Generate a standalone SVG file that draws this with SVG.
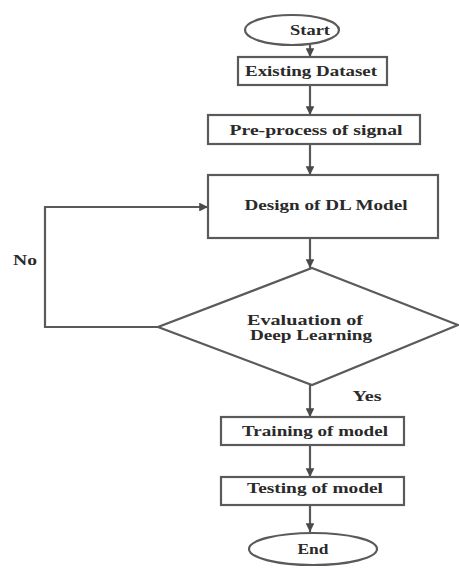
<svg xmlns="http://www.w3.org/2000/svg" width="459" height="569" viewBox="0 0 459 569">
<style>
.shape{fill:#fff;stroke:#5a5a5a;stroke-width:2.2}
.lbl{font-family:"Liberation Serif","Times New Roman",serif;font-weight:bold;font-size:14px;fill:#2a2a2a;text-anchor:middle}
.conn{fill:none;stroke:#5a5a5a;stroke-width:2.2}
</style>
<defs>
<marker id="ah" viewBox="0 0 10 10" refX="10" refY="5" markerWidth="4" markerHeight="4" orient="auto" markerUnits="strokeWidth">
<path d="M0,0 L10,5 L0,10 z" fill="#4a4a4a"/>
</marker>
</defs>
<rect width="459" height="569" fill="#fff"/>
<g id="connectors">
<line class="conn" x1="310" y1="45" x2="310" y2="57" marker-end="url(#ah)"/>
<line class="conn" x1="310" y1="85" x2="310" y2="115" marker-end="url(#ah)"/>
<line class="conn" x1="310" y1="144" x2="310" y2="175" marker-end="url(#ah)"/>
<line class="conn" x1="310" y1="238" x2="310" y2="268" marker-end="url(#ah)"/>
<line class="conn" x1="310" y1="385" x2="310" y2="417" marker-end="url(#ah)"/>
<line class="conn" x1="310" y1="445" x2="310" y2="477" marker-end="url(#ah)"/>
<line class="conn" x1="310" y1="505" x2="310" y2="532" marker-end="url(#ah)"/>
<polyline class="conn" points="158,327 45,327 45,207 208,207" marker-end="url(#ah)"/>
<text class="lbl" x="25" y="265" textLength="24" lengthAdjust="spacingAndGlyphs">No</text>
<text class="lbl" x="367" y="401" textLength="29" lengthAdjust="spacingAndGlyphs">Yes</text>
</g>
<g id="start">
<ellipse class="shape" cx="292" cy="30" rx="47" ry="15"/>
<text class="lbl" x="310" y="35" textLength="40" lengthAdjust="spacingAndGlyphs">Start</text>
</g>
<g id="existing">
<rect class="shape" x="238" y="57" width="149" height="28"/>
<text class="lbl" x="311" y="76" textLength="132" lengthAdjust="spacingAndGlyphs">Existing Dataset</text>
</g>
<g id="preprocess">
<rect class="shape" x="208" y="115" width="212" height="29"/>
<text class="lbl" x="316" y="135" textLength="173" lengthAdjust="spacingAndGlyphs">Pre-process of signal</text>
</g>
<g id="design">
<rect class="shape" x="208" y="175" width="230" height="63"/>
<text class="lbl" x="326" y="210" textLength="163" lengthAdjust="spacingAndGlyphs">Design of DL Model</text>
</g>
<g id="evaluation">
<polygon class="shape" points="312,268 458,325 312,385 158,327"/>
<text class="lbl" x="305" y="325" textLength="116" lengthAdjust="spacingAndGlyphs">Evaluation of</text>
<text class="lbl" x="311" y="340" textLength="122" lengthAdjust="spacingAndGlyphs">Deep Learning</text>
</g>
<g id="training">
<rect class="shape" x="221" y="417" width="183" height="28"/>
<text class="lbl" x="315" y="436" textLength="146" lengthAdjust="spacingAndGlyphs">Training of model</text>
</g>
<g id="testing">
<rect class="shape" x="221" y="477" width="183" height="28"/>
<text class="lbl" x="315" y="493" textLength="136" lengthAdjust="spacingAndGlyphs">Testing of model</text>
</g>
<g id="end">
<ellipse class="shape" cx="313" cy="549" rx="64" ry="16"/>
<text class="lbl" x="313" y="554" textLength="31" lengthAdjust="spacingAndGlyphs">End</text>
</g>
</svg>
